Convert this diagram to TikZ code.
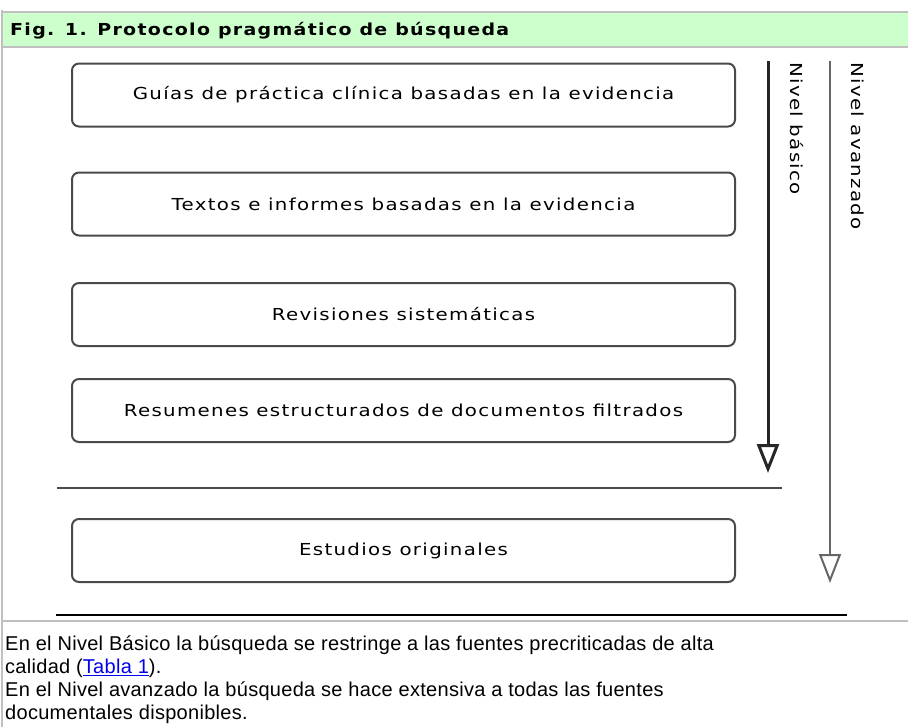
\documentclass[tikz,border=0pt]{standalone}
\usepackage{fontspec}
\setmainfont{DejaVu Sans}
\newfontfamily\boxfont[FakeStretch=1.2,LetterSpace=8]{DejaVu Sans}
\newfontfamily\headfont[FakeStretch=1.15,LetterSpace=8]{DejaVu Sans Bold}
\newfontfamily\notefont[LetterSpace=1.5]{Liberation Sans}
\usetikzlibrary{arrows.meta}

\definecolor{headgreen}{HTML}{CCFFCC}
\definecolor{rulegray}{HTML}{C0C0C0}
\definecolor{boxgray}{HTML}{4A4A4A}
\definecolor{linkblue}{HTML}{0000EE}

\begin{document}
\begin{tikzpicture}[x=1pt,y=-1pt,>={Triangle[open,width=22pt,length=29pt]},line cap=rect]
  \tikzstyle{level}=[draw=boxgray,line width=2pt,rounded corners=7pt,minimum width=663pt,
                     minimum height=63pt,inner sep=0pt,font=\boxfont\fontsize{16.5}{20}\selectfont]
  \tikzstyle{side}=[rotate=-90,anchor=west,inner sep=0pt,font=\boxfont\fontsize{16.5}{20}\selectfont]
  \tikzstyle{rule}=[line width=2pt]

  \useasboundingbox (0,0) rectangle (908,726);

  % table frame and header
  \fill[headgreen] (2,12) rectangle (908,46);
  \draw[rulegray,line width=2pt] (2,12) -- (908,12) (2,47) -- (908,47) (2,621) -- (908,621);
  \draw[rulegray,line width=2pt] (2,11) -- (2,726);
  \node[anchor=base west,inner sep=0pt,font=\headfont\fontsize{16.5}{20}\selectfont] (title) at (10,35)
    {Fig. 1. Protocolo pragmático de búsqueda};

  % levels
  \node[level] (guias)     at (403.5,95)    {Guías de práctica clínica basadas en la evidencia};
  \node[level] (textos)    at (403.5,204)   {Textos e informes basadas en la evidencia};
  \node[level] (revision)  at (403.5,314.5) {Revisiones sistemáticas};
  \node[level] (resumenes) at (403.5,410.5) {Resumenes estructurados de documentos filtrados};
  \node[level] (estudios)  at (403.5,550.5) {Estudios originales};

  \draw[rule,boxgray] (58,488) -- (781,488);
  \draw[rule,black]   (57,615) -- (846,615);

  % search levels
  \coordinate (basico top) at (768,62);
  \coordinate (basico end) at (768,473);
  \coordinate (avanz top)  at (830,62);
  \coordinate (avanz end)  at (830,583);
  \draw[->,line width=3pt,black!85] (basico top) -- (basico end);
  \draw[->,line width=2pt,black!60] (avanz top) -- (avanz end);
  \node[side] (basico) at (797,62) {Nivel básico};
  \node[side] (avanz)  at (858,62) {Nivel avanzado};

  % note
  \node[anchor=north west,align=left,inner sep=0pt,font=\notefont\fontsize{20}{23}\selectfont] (note) at (5,636)
    {En el Nivel Básico la búsqueda se restringe a las fuentes precriticadas de alta\\
     calidad ({\color{linkblue}\underline{Tabla 1}}).\\
     En el Nivel avanzado la búsqueda se hace extensiva a todas las fuentes\\
     documentales disponibles.};
\end{tikzpicture}
\end{document}
